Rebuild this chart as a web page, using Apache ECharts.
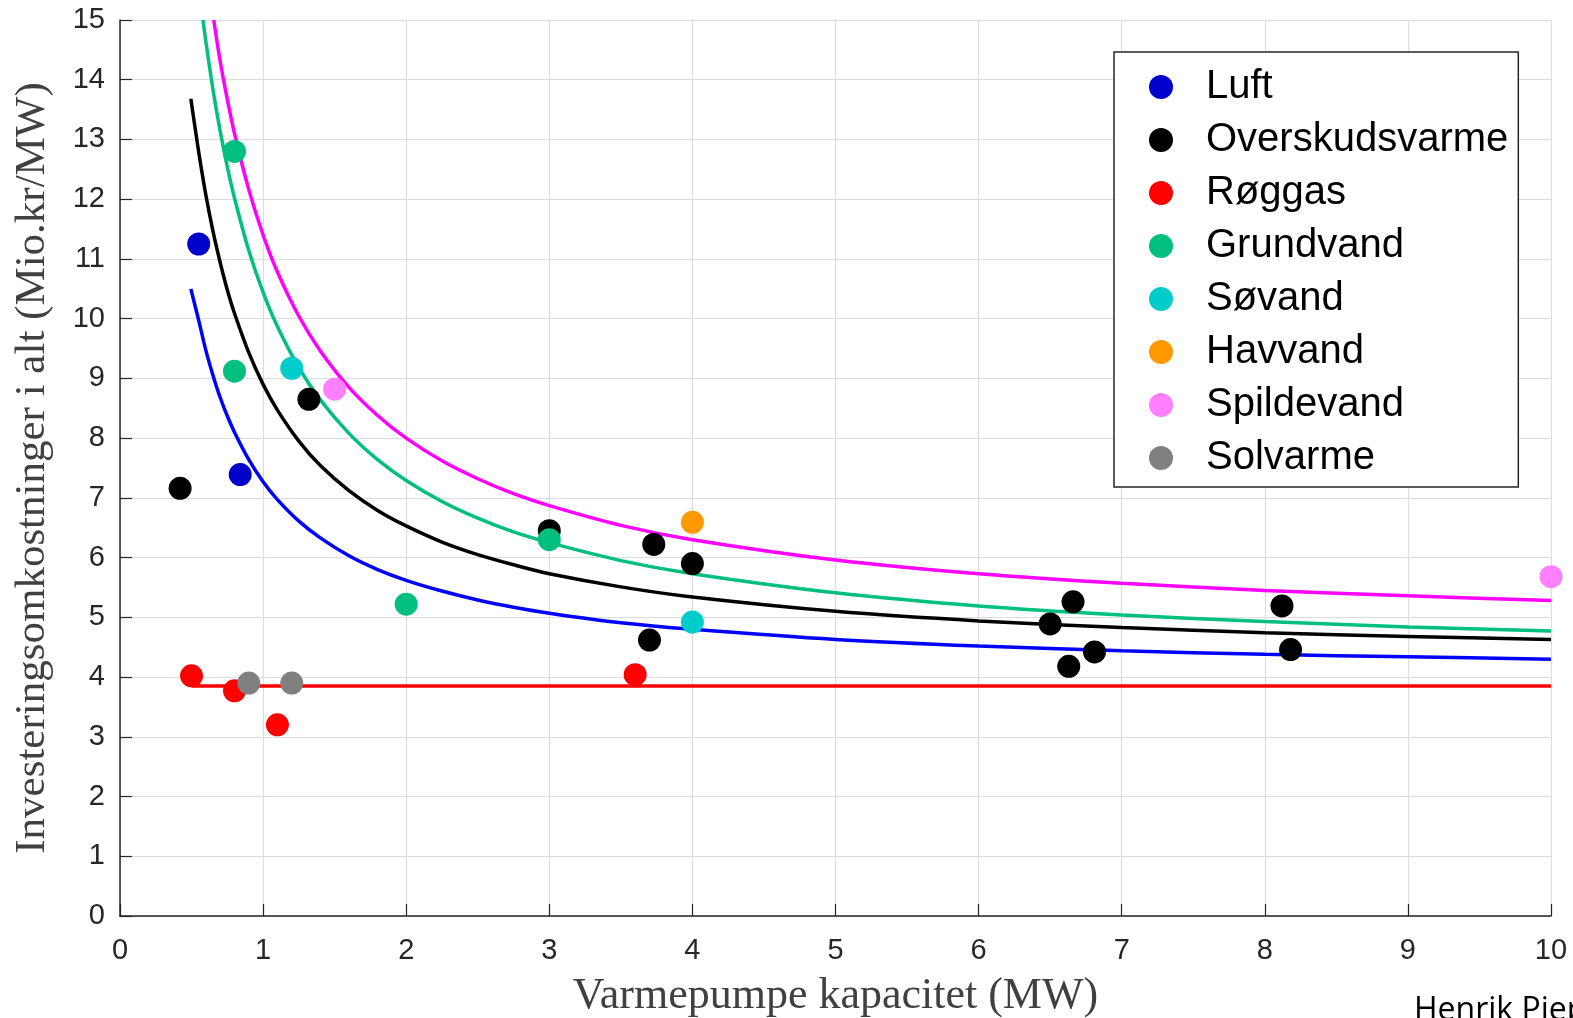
<!DOCTYPE html>
<html>
<head>
<meta charset="utf-8">
<title>Varmepumpe investeringsomkostninger</title>
<script src="https://cdn.jsdelivr.net/npm/echarts@6/dist/echarts.min.js"></script>
<style>
  html, body { margin: 0; padding: 0; background: #fff; }
  #chart { width: 1573px; height: 1018px; }
</style>
</head>
<body>
<div id="chart"></div>
<script>
// målte punkter: [kapacitet MW, Mio.kr/MW]
const luft = [[0.55, 11.25], [0.84, 7.39]]
const overskudsvarme = [
  [0.42, 7.16], [1.32, 8.65], [3.0, 6.45], [3.73, 6.22], [4.0, 5.9], [3.7, 4.62],
  [6.5, 4.89], [6.66, 5.26], [6.63, 4.18], [6.81, 4.42], [8.12, 5.19], [8.18, 4.46]
]
const roeggas = [[0.5, 4.02], [0.8, 3.77], [1.1, 3.2], [3.6, 4.04]]
const grundvand = [[0.8, 12.8], [0.8, 9.12], [2.0, 5.22], [3.0, 6.3]]
const soevand = [[1.2, 9.17], [4.0, 4.92]]
const havvand = [[4.0, 6.59]]
const spildevand = [[1.5, 8.82], [10.0, 5.68]]
const solvarme = [[0.9, 3.9], [1.2, 3.9]]

// tilpassede kurver
const luftFit = [
  [0.495, 10.5], [0.55, 9.97], [0.6, 9.47], [0.65, 9.05], [0.7, 8.68], [0.75, 8.37], [0.8, 8.1],
  [0.9, 7.64], [1.0, 7.27], [1.1, 6.97], [1.25, 6.61], [1.4, 6.33], [1.6, 6.03], [1.8, 5.8],
  [2.0, 5.62], [2.25, 5.44], [2.5, 5.29], [2.75, 5.17], [3.0, 5.07], [3.5, 4.91], [4.0, 4.8],
  [5.0, 4.63], [6.0, 4.52], [7.0, 4.44], [8.0, 4.38], [9.0, 4.34], [10.0, 4.3]
]
const overskudFit = [
  [0.495, 13.68], [0.55, 12.79], [0.6, 12.07], [0.65, 11.46], [0.7, 10.94], [0.75, 10.48], [0.8, 10.09],
  [0.9, 9.43], [1.0, 8.9], [1.1, 8.47], [1.25, 7.95], [1.4, 7.54], [1.6, 7.12], [1.8, 6.79],
  [2.0, 6.53], [2.25, 6.26], [2.5, 6.05], [2.75, 5.88], [3.0, 5.73], [3.5, 5.51], [4.0, 5.34],
  [5.0, 5.1], [6.0, 4.94], [7.0, 4.83], [8.0, 4.74], [9.0, 4.68], [10.0, 4.63]
]
const roeggasFit = [[0.5, 3.85], [10.0, 3.85]]
const grundvandFit = [
  [0.58, 15.0], [0.6, 14.64], [0.65, 13.83], [0.7, 13.14], [0.75, 12.54], [0.8, 12.02], [0.9, 11.14],
  [1.0, 10.44], [1.1, 9.87], [1.25, 9.18], [1.4, 8.64], [1.6, 8.08], [1.8, 7.64], [2.0, 7.29],
  [2.25, 6.94], [2.5, 6.66], [2.75, 6.43], [3.0, 6.25], [3.5, 5.95], [4.0, 5.73], [5.0, 5.41],
  [6.0, 5.19], [7.0, 5.04], [8.0, 4.93], [9.0, 4.84], [10.0, 4.77]
]
const spildevandFit = [
  [0.655, 15.0], [0.7, 14.31], [0.75, 13.67], [0.8, 13.1], [0.9, 12.16], [1.0, 11.4], [1.1, 10.78],
  [1.25, 10.04], [1.4, 9.46], [1.6, 8.85], [1.8, 8.38], [2.0, 8.0], [2.25, 7.62], [2.5, 7.32],
  [2.75, 7.07], [3.0, 6.87], [3.5, 6.54], [4.0, 6.3], [5.0, 5.96], [6.0, 5.73], [7.0, 5.57],
  [8.0, 5.45], [9.0, 5.36], [10.0, 5.28]
]

const names = ['Luft', 'Overskudsvarme', 'Røggas', 'Grundvand', 'Søvand', 'Havvand', 'Spildevand', 'Solvarme']
const dotColors = ['#0000cc', '#000000', '#ff0000', '#00bf7f', '#00cccc', '#ff9900', '#ff80ff', '#808080']
const dotData = [luft, overskudsvarme, roeggas, grundvand, soevand, havvand, spildevand, solvarme]

const fits = [
  { name: 'fit-luft', data: luftFit, color: '#0000ff' },
  { name: 'fit-overskud', data: overskudFit, color: '#000000' },
  { name: 'fit-roeggas', data: roeggasFit, color: '#ff0000' },
  { name: 'fit-grundvand', data: grundvandFit, color: '#00bf7f' },
  { name: 'fit-spildevand', data: spildevandFit, color: '#ff00ff' }
]

const tickFont = { fontFamily: 'Liberation Sans', fontSize: 29, color: '#262626' }
const nameFont = { fontFamily: 'Liberation Serif', color: '#404040' }

const chart = echarts.init(document.getElementById('chart'))

chart.setOption({
  animation: false,
  backgroundColor: '#fff',
  grid: { left: 120, right: 22, top: 20, bottom: 102, containLabel: false, outerBoundsMode: 'none' },
  legend: {
    data: names.map(n => ({ name: n, icon: 'circle' })),
    orient: 'vertical',
    left: 1114,
    top: 52,
    padding: [13, 10, 7, 35],
    itemWidth: 24,
    itemHeight: 24,
    itemGap: 9,
    borderColor: '#262626',
    borderWidth: 1.5,
    backgroundColor: '#fff',
    textStyle: { fontFamily: 'Liberation Sans', fontSize: 40, color: '#000', padding: [0, 0, 0, 28], lineHeight: 44 }
  },
  xAxis: {
    type: 'value',
    min: 0, max: 10, interval: 1,
    name: 'Varmepumpe kapacitet (MW)',
    nameLocation: 'middle',
    nameGap: 58,
    nameTextStyle: { ...nameFont, fontSize: 44 },
    axisLine: { onZero: false, lineStyle: { color: '#262626', width: 1.5 } },
    axisTick: { inside: true, length: 12, lineStyle: { color: '#262626', width: 1.2 } },
    axisLabel: { ...tickFont, margin: 20 },
    splitLine: { lineStyle: { color: '#dcdcdc', width: 1.2 } }
  },
  yAxis: {
    type: 'value',
    min: 0, max: 15, interval: 1,
    name: 'Investeringsomkostninger i alt (Mio.kr/MW)',
    nameLocation: 'middle',
    nameGap: 66,
    nameTextStyle: { ...nameFont, fontSize: 43 },
    axisLine: { show: true, onZero: false, lineStyle: { color: '#262626', width: 1.5 } },
    axisTick: { show: true, inside: true, length: 12, lineStyle: { color: '#262626', width: 1.2 } },
    axisLabel: { ...tickFont, margin: 15 },
    splitLine: { lineStyle: { color: '#dcdcdc', width: 1.2 } }
  },
  graphic: [{
    type: 'text',
    left: 1414,
    top: 995,
    style: { text: 'Henrik Pieper', fontFamily: 'Open Sans', fontSize: 32, fill: '#000' }
  }],
  series: [
    ...fits.map(f => ({
      name: f.name,
      type: 'line',
      data: f.data,
      showSymbol: false,
      smooth: 0.3,
      clip: true,
      z: 2,
      lineStyle: { color: f.color, width: 3.5 }
    })),
    ...names.map((n, i) => ({
      name: n,
      type: 'scatter',
      data: dotData[i],
      symbol: 'circle',
      symbolSize: 23,
      z: 3,
      itemStyle: { color: dotColors[i], opacity: 1 }
    }))
  ]
})
</script>
</body>
</html>
